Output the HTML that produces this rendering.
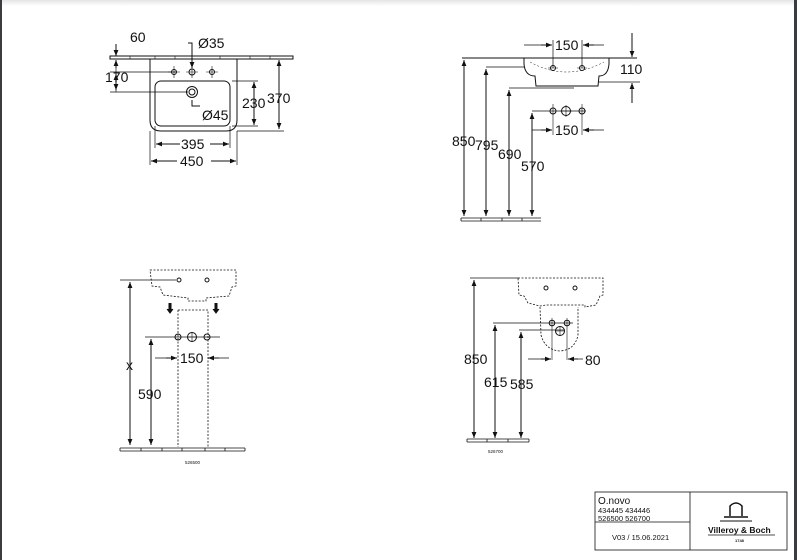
<!DOCTYPE html>
<html><head><meta charset="utf-8"><style>
html,body{margin:0;padding:0;background:#fff}
svg{display:block}
text{font-family:"Liberation Sans",sans-serif;fill:#111}
</style></head><body>
<svg width="797" height="560" viewBox="0 0 797 560" xmlns="http://www.w3.org/2000/svg">
<defs>
<marker id="a" viewBox="0 0 10 10" refX="10" refY="5" markerWidth="6" markerHeight="6" orient="auto-start-reverse"><path d="M0,1 L10,5 L0,9 z" fill="#111"/></marker>
<linearGradient id="g" x1="0" y1="0" x2="0" y2="1"><stop offset="0" stop-color="#e4e4e4"/><stop offset="1" stop-color="#fff"/></linearGradient>
</defs>
<rect x="0" y="0" width="797" height="560" fill="#fff"/>
<rect x="0" y="0" width="797" height="6" fill="url(#g)"/>
<rect x="0" y="0" width="2" height="560" fill="#3a3c40"/>
<rect x="794" y="0" width="3" height="560" fill="#3a3c40"/>
<g stroke="#111" stroke-width="1" fill="none">
<!-- TOP LEFT -->
<rect x="110" y="56" width="183" height="3" fill="#fff"/>
<path d="M130,56V59 M155,56V59 M175,56V59 M220,56V59 M250,56V59 M270,56V59" stroke-width="0.6"/>
<path d="M150,59 V120 Q150,131 161,131 H226 Q237,131 237,120 V59"/>
<rect x="155" y="81" width="75" height="45" rx="6"/>
<circle cx="192" cy="92" r="5.5"/><circle cx="192" cy="92" r="3"/>
<circle cx="174" cy="72" r="2.5"/><circle cx="192" cy="72" r="3"/><circle cx="212" cy="72" r="2.5"/>
<path d="M174,66V78 M168,72H180 M192,66V78 M186,72H198 M212,66V78 M206,72H218" stroke-width="0.6"/>
<path d="M116,44V56" marker-end="url(#a)"/>
<path d="M116,64V92 M110,72H176 M110,92H188" stroke-width="0.7"/>
<path d="M116,74V90" marker-start="url(#a)" marker-end="url(#a)"/>
<path d="M116,68V60" marker-end="url(#a)"/>
<path d="M188,43H192V68" marker-end="url(#a)"/>
<path d="M192,100V106H200" />
<path d="M279,60V129" marker-start="url(#a)" marker-end="url(#a)"/>
<path d="M237,131H284 M232,81H258 M232,126H258" stroke-width="0.7"/>
<path d="M254,82V125" marker-start="url(#a)" marker-end="url(#a)"/>
<path d="M155,126V148 M230,126V148 M150,131V165 M237,131V165" stroke-width="0.7"/>
<path d="M180,144H156" marker-end="url(#a)"/><path d="M210,144H229" marker-end="url(#a)"/>
<path d="M177,161H151" marker-end="url(#a)"/><path d="M211,161H236" marker-end="url(#a)"/>
<!-- TOP RIGHT -->
<path d="M462,58H637" />
<path d="M524,58V64 Q525,76 535,76 L536,86 H598 L599,76 Q608,76 609,64 V58"/>
<path d="M530,62 Q566,82 604,62" stroke-width="0.5" stroke-dasharray="2,2"/>
<circle cx="553" cy="68" r="2.5"/><circle cx="582" cy="68" r="2.5"/>
<path d="M548,68H558 M577,68H587" stroke-width="0.5"/>
<path d="M524,45H541 M587,45H604 M553,40V68 M582,40V68" stroke-width="0.7"/>
<path d="M541,45H552" marker-end="url(#a)"/><path d="M594,45H583" marker-end="url(#a)"/>
<path d="M632,33V57" marker-end="url(#a)"/><path d="M632,103V83" marker-end="url(#a)"/>
<path d="M598,82H640" stroke-width="0.7"/>
<path d="M464,60V216" marker-start="url(#a)" marker-end="url(#a)"/>
<path d="M486,67H524 M509,88H574 M532,111H586" stroke-width="0.7"/>
<path d="M486,69V216" marker-start="url(#a)" marker-end="url(#a)"/>
<path d="M509,90V216" marker-start="url(#a)" marker-end="url(#a)"/>
<path d="M532,113V216" marker-start="url(#a)" marker-end="url(#a)"/>
<circle cx="553" cy="111" r="3"/><circle cx="566" cy="111" r="4.5"/><circle cx="582" cy="111" r="3"/>
<path d="M553,104V135 M582,104V135 M566,105V117 M560,111H572" stroke-width="0.6"/>
<path d="M532,130H541 M593,130H604" stroke-width="0.7"/>
<path d="M541,130H552" marker-end="url(#a)"/><path d="M594,130H583" marker-end="url(#a)"/>
<path d="M461,218H541 M461,221H541 M461,218V221 M481,218V221 M502,218V221 M522,218V221" stroke-width="0.8"/>
<!-- BOTTOM LEFT -->
<g stroke-dasharray="2,1.5" stroke-width="0.8">
<path d="M150,270H236V286 L232,287 L229,296 L206,298 V301 H188 V298 L163,295 L160,287 L152,286 Z"/>
<path d="M178,310H208V447 M178,310V447"/>
</g>
<circle cx="179" cy="280" r="2"/><circle cx="207" cy="280" r="2"/>
<path d="M120,280H176" stroke-width="0.8"/>
<path d="M170,303V311 M216,303V311" stroke-width="3"/>
<path d="M167,309L170,313L173,309 M213,309L216,313L219,309" fill="#111"/>
<path d="M130,282V445" marker-start="url(#a)" marker-end="url(#a)"/>
<path d="M145,337H220" stroke-width="0.8"/>
<circle cx="178" cy="337" r="3"/><circle cx="192" cy="337" r="4.5"/><circle cx="207" cy="337" r="3"/>
<path d="M192,332V342 M187,337H197" stroke-width="0.6"/>
<path d="M151,339V445" marker-start="url(#a)" marker-end="url(#a)"/>
<path d="M155,358H169 M217,358H229" stroke-width="0.8"/>
<path d="M166,358H177" marker-end="url(#a)"/><path d="M219,358H208" marker-end="url(#a)"/>
<path d="M120,448H245 M120,451H245 M120,448V451 M141,448V451 M162,448V451 M182,448V451 M205,448V451 M225,448V451 M245,448V451" stroke-width="0.8"/>
<!-- BOTTOM RIGHT -->
<path d="M470,278H518" stroke-width="0.8"/>
<g stroke-dasharray="2,1.5" stroke-width="0.8">
<path d="M518,278H603V295 L600,296 L596,305 L585,307 V305 H546 L540,306 L528,303 L524,296 L519,295 Z"/>
<path d="M540,307 L541,335 Q545,350 560,351 Q575,350 578,335 L578,307"/>
</g>
<circle cx="546" cy="288" r="2"/><circle cx="575" cy="288" r="2"/>
<path d="M474,280V438" marker-start="url(#a)" marker-end="url(#a)"/>
<path d="M493,323H573 M519,330H565" stroke-width="0.8"/>
<circle cx="552" cy="323" r="2.8"/><circle cx="567" cy="323" r="2.8"/><circle cx="560" cy="331" r="4.5"/>
<path d="M552,318V360 M567,318V360 M560,326V336 M555,331H565" stroke-width="0.6"/>
<path d="M495,325V438" marker-start="url(#a)" marker-end="url(#a)"/>
<path d="M521,332V438" marker-start="url(#a)" marker-end="url(#a)"/>
<path d="M528,359H545 M574,359H583" stroke-width="0.8"/>
<path d="M541,359H551" marker-end="url(#a)"/><path d="M578,359H568" marker-end="url(#a)"/>
<path d="M467,439H529 M467,442H529 M467,439V442 M487,439V442 M508,439V442 M529,439V442" stroke-width="0.8"/>
<!-- TITLE BLOCK -->
<rect x="595" y="492" width="192" height="58" stroke-width="0.8"/>
<path d="M690,492V550 M595,522H690" stroke-width="0.8"/>
<path d="M730,516V506 Q736,500 742,506 V516 M724,517H748" stroke-width="1.5"/>
<path d="M720,521H752" stroke-width="1"/>
<path d="M708,535H775" stroke-width="0.8"/>
</g>
<g font-size="14" fill="#111">
<text x="130" y="42">60</text>
<text x="105" y="82">170</text>
<text x="198" y="48">Ø35</text>
<text x="267" y="103">370</text>
<text x="242" y="108">230</text>
<text x="202" y="120">Ø45</text>
<text x="181" y="149">395</text>
<text x="180" y="166">450</text>
<text x="555" y="50">150</text>
<text x="620" y="74">110</text>
<text x="452" y="146">850</text>
<text x="475" y="150">795</text>
<text x="498" y="159">690</text>
<text x="521" y="171">570</text>
<text x="555" y="135">150</text>
<text x="126" y="370">x</text>
<text x="138" y="399">590</text>
<text x="180" y="363">150</text>
<text x="464" y="364">850</text>
<text x="484" y="387">615</text>
<text x="510" y="389">585</text>
<text x="585" y="365">80</text>
</g>
<text x="185" y="464" font-size="4.5">526500</text>
<text x="488" y="453" font-size="4.5">526700</text>
<text x="598" y="504" font-size="10">O.novo</text>
<text x="598" y="513" font-size="7.5">434445 434446</text>
<text x="598" y="521" font-size="7.5">526500 526700</text>
<text x="612" y="540" font-size="7.5">V03 / 15.06.2021</text>
<text x="708" y="533" font-size="8.5" font-family="Liberation Serif" font-weight="bold">Villeroy &amp; Boch</text>
<text x="735" y="542" font-size="4" font-weight="bold">1748</text>
</svg>
</body></html>
